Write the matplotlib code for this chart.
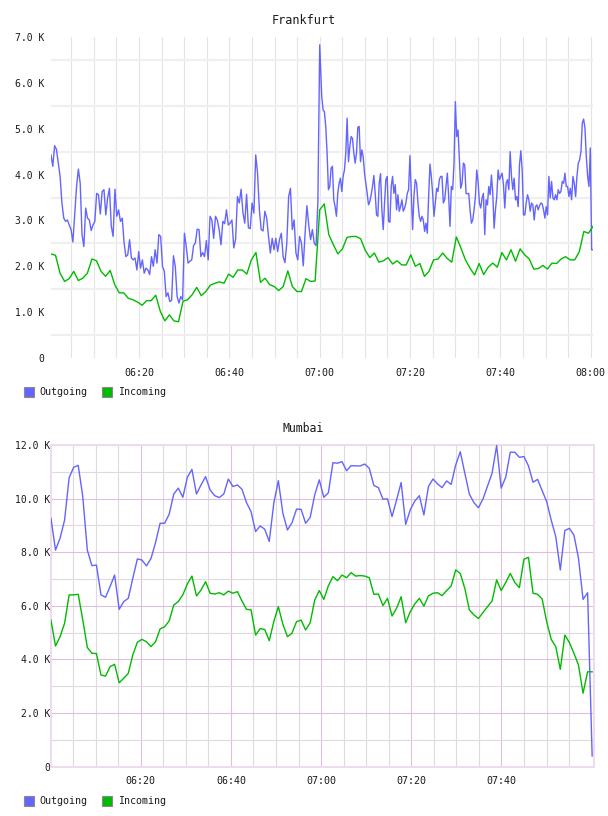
import numpy as np
import matplotlib
matplotlib.use("Agg")
import matplotlib.pyplot as plt
from matplotlib.patches import Rectangle
from matplotlib.ticker import FixedLocator, FixedFormatter, NullFormatter

# ---------------- data (values in thousands) ----------------
series_names = ["Outgoing", "Incoming"]
chart_titles = ["Frankfurt", "Mumbai"]

fra_out_first_hour = [4.43, 4.18, 4.63, 4.55, 4.25, 3.96, 3.38, 3.05, 2.98, 3.01, 2.90, 2.80, 2.53, 3.12, 3.74,
    4.12, 3.81, 2.69, 2.43, 3.27, 3.05, 3.01, 2.78, 2.90, 2.98, 3.59, 3.56, 3.14, 3.63, 3.67, 3.12, 3.49, 3.70,
    2.87, 2.65, 3.68, 3.09, 3.23, 2.98, 3.05, 2.51, 2.21, 2.25, 2.58, 2.18, 2.14, 2.18, 1.92, 2.32, 1.96, 2.14,
    1.85, 1.96, 1.92, 1.82, 2.21, 2.00, 2.36, 2.07, 2.69, 2.65, 2.00, 1.89, 1.34, 1.42, 1.23, 1.26, 2.23, 2.00,
    1.34, 1.20, 1.34, 1.27, 2.72, 2.43, 2.07, 2.11, 2.14, 2.45, 2.51, 2.81, 2.80, 2.21, 2.30, 2.21, 2.56, 2.14,
    3.09, 3.01, 2.61, 3.09, 3.01, 2.80, 2.47, 2.98, 2.93, 3.23, 2.90, 2.94, 3.01, 2.40, 2.59, 3.52, 3.38, 3.68,
    3.17, 2.94, 3.57, 2.84, 2.82, 3.38, 3.16, 4.43, 4.03, 3.23, 2.80, 2.77, 3.20, 3.05, 2.65, 2.29, 2.61, 2.36,
    2.61, 2.32, 2.58, 2.72, 2.21, 2.08, 2.51, 3.52, 3.70, 2.80, 3.01, 2.29, 2.14, 2.65, 2.51, 2.01, 2.72, 3.32,
    2.90, 2.58, 2.80, 2.51, 2.45, 3.41, 6.83]

fra_out_second_hour = [5.70, 5.41, 5.37, 5.05, 4.47, 3.67, 3.74, 4.14, 4.18, 3.45, 3.30, 3.09, 3.59, 3.81, 3.92,
    3.63, 3.96, 4.10, 4.47, 5.23, 4.28, 4.61, 4.83, 4.79, 4.47, 4.25, 4.47, 5.03, 5.05, 4.28, 4.54, 4.39, 4.03,
    3.81, 3.59, 3.34, 3.41, 3.56, 3.74, 3.98, 3.59, 3.12, 3.09, 3.81, 4.02, 3.23, 2.80, 3.38, 3.89, 3.96, 2.98,
    2.96, 3.74, 3.96, 3.59, 3.78, 3.23, 3.56, 3.20, 3.30, 3.45, 3.20, 3.27, 3.38, 3.59, 3.67, 4.41, 3.59, 2.80,
    3.52, 3.89, 3.81, 3.38, 3.09, 2.98, 3.09, 3.01, 2.76, 2.94, 2.72, 3.52, 4.23, 3.96, 3.59, 3.09, 3.38, 3.70,
    3.63, 3.89, 3.96, 3.96, 3.38, 3.45, 3.74, 4.03, 3.52, 2.87, 3.74, 3.67, 4.25, 5.59, 4.83, 4.97, 4.32, 3.70,
    3.81, 4.25, 4.21, 3.59, 3.58, 3.59, 3.23, 2.94, 3.01, 3.23, 3.52, 4.10, 3.85, 3.38, 3.27, 3.49, 3.59, 2.69,
    3.45, 3.34, 3.74, 3.56, 3.99, 3.59, 2.83, 3.23, 3.52, 4.10, 3.89, 3.96, 4.03, 3.78, 3.27, 3.81, 3.89, 3.67,
    4.50, 3.96, 3.67, 3.92, 3.45, 3.52, 3.30, 4.21, 4.52, 4.10, 3.12, 3.12, 3.38, 3.56, 3.45, 3.20, 3.38, 3.34,
    3.01, 3.30, 3.34, 3.23, 3.32, 3.38, 3.36, 3.23, 3.05, 3.30, 3.12, 3.96, 3.49, 3.85, 3.49, 3.45, 3.56, 3.45,
    3.67, 3.59, 3.63, 3.85, 3.81, 4.03, 3.74, 3.74, 3.52, 3.70, 3.45, 3.96, 3.81, 3.52, 3.96, 4.25, 4.32, 4.50,
    5.12, 5.21, 5.01, 4.39, 3.96, 3.74, 4.58, 2.36, 2.36]

fra_in = [2.27, 2.24, 1.85, 1.67, 1.73, 1.89, 1.69, 1.74, 1.85, 2.16, 2.12, 1.89, 1.78, 1.91, 1.60, 1.42, 1.42,
    1.30, 1.27, 1.22, 1.15, 1.25, 1.25, 1.37, 1.02, 0.81, 0.94, 0.81, 0.79, 1.24, 1.27, 1.38, 1.54, 1.36, 1.45,
    1.59, 1.63, 1.66, 1.63, 1.83, 1.76, 1.92, 1.92, 1.83, 2.14, 2.30, 1.65, 1.74, 1.60, 1.56, 1.47, 1.56, 1.90,
    1.56, 1.45, 1.45, 1.73, 1.67, 1.68,
    3.23, 3.36, 2.69, 2.47, 2.27, 2.38, 2.63, 2.65, 2.65, 2.60, 2.35, 2.19, 2.29, 2.09, 2.12, 2.19, 2.05, 2.12,
    2.03, 2.03, 2.25, 2.00, 2.06, 1.78, 1.89, 2.14, 2.16, 2.29, 2.17, 2.09, 2.64, 2.40, 2.14, 1.96, 1.81, 2.06,
    1.82, 1.98, 2.07, 1.98, 2.30, 2.14, 2.36, 2.11, 2.38, 2.25, 2.16, 1.94, 1.95, 2.02, 1.94, 2.07, 2.06, 2.16,
    2.21, 2.14, 2.14, 2.32, 2.76, 2.72, 2.87]

mum_out = [9.27, 8.08, 8.52, 9.20, 10.78, 11.17, 11.24, 10.07, 8.08, 7.50, 7.52, 6.41, 6.32, 6.72, 7.15, 5.87,
    6.16, 6.28, 7.03, 7.75, 7.71, 7.49, 7.77, 8.36, 9.08, 9.08, 9.42, 10.17, 10.39, 10.05, 10.80, 11.09, 10.17,
    10.51, 10.82, 10.32, 10.11, 10.04, 10.17, 10.73, 10.45, 10.51, 10.35, 9.85, 9.51, 8.77, 8.98, 8.86, 8.40,
    9.83, 10.67, 9.45, 8.83, 9.10, 9.61, 9.60, 9.08, 9.30, 10.14, 10.70, 10.05,
    10.22, 11.34, 11.32, 11.38, 11.04, 11.23, 11.22, 11.22, 11.29, 11.13, 10.49, 10.41, 9.98, 9.99, 9.33, 9.95,
    10.60, 9.04, 9.58, 9.91, 10.11, 9.39, 10.45, 10.73, 10.55, 10.41, 10.66, 10.53, 11.26, 11.75, 10.95, 10.17,
    9.85, 9.66, 9.99, 10.47, 10.95, 11.98, 10.39, 10.80, 11.73, 11.73, 11.54, 11.57, 11.22, 10.61, 10.72, 10.30,
    9.89, 9.20, 8.58, 7.34, 8.81, 8.89, 8.64, 7.77, 6.24, 6.49, 0.40]

mum_in = [5.47, 4.50, 4.85, 5.35, 6.41, 6.41, 6.43, 5.47, 4.45, 4.23, 4.22, 3.42, 3.38, 3.73, 3.82, 3.13, 3.30,
    3.48, 4.17, 4.64, 4.75, 4.66, 4.48, 4.66, 5.14, 5.22, 5.44, 6.03, 6.16, 6.41, 6.82, 7.11, 6.37, 6.59, 6.90,
    6.47, 6.44, 6.49, 6.41, 6.55, 6.47, 6.53, 6.18, 5.87, 5.85, 4.91, 5.15, 5.12, 4.70, 5.41, 5.97, 5.31, 4.85,
    4.98, 5.41, 5.47, 5.10, 5.37, 6.22, 6.57, 6.24,
    6.75, 7.09, 6.94, 7.15, 7.05, 7.24, 7.11, 7.13, 7.11, 7.05, 6.43, 6.44, 6.01, 6.28, 5.62, 5.91, 6.34, 5.37,
    5.78, 6.07, 6.28, 5.99, 6.37, 6.47, 6.49, 6.38, 6.57, 6.74, 7.34, 7.21, 6.65, 5.85, 5.66, 5.53, 5.75, 5.97,
    6.18, 6.97, 6.57, 6.87, 7.21, 6.87, 6.68, 7.74, 7.81, 6.47, 6.43, 6.26, 5.41, 4.75, 4.48, 3.63, 4.91, 4.63,
    4.23, 3.79, 2.74, 3.54, 3.54]

time_tick_minutes = [20, 40, 60, 80, 100, 120]          # minutes after 06:00
time_tick_labels = ["06:20", "06:40", "07:00", "07:20", "07:40", "08:00"]
fra_y_ticks = [0, 1, 2, 3, 4, 5, 6, 7]
mum_y_ticks = [0, 2, 4, 6, 8, 10, 12]

# sample times (minutes after 06:00)
t_fra_out = np.concatenate([np.linspace(0.5, 60.0, len(fra_out_first_hour)),
                            np.linspace(60.45, 120.5, len(fra_out_second_hour))])
fra_out = fra_out_first_hour + fra_out_second_hour
t_fra_in = np.linspace(0.5, 120.5, len(fra_in))
t_mum = np.linspace(0.1, 120.1, len(mum_out))

# ---------------- style ----------------
BLUE = "#6464ff"
GREEN = "#00bb00"
FONT = "DejaVu Sans Mono"
TXT = "#1a1a1a"
plt.rcParams["font.family"] = [FONT, "DejaVu Sans"]

W, H = 608, 816
fig = plt.figure(figsize=(W / 100, H / 100), dpi=100)
fig.patch.set_facecolor("white")


def ax_at(l, t, r, b):
    return fig.add_axes([l / W, 1 - b / H, (r - l) / W, (b - t) / H])


def klabel(v):
    return "0" if v == 0 else f"{v:.1f} K"


# ---------------- Frankfurt ----------------
ax1 = ax_at(51, 37, 593.3, 358)
ax1.set_xlim(0.51, 120.57)
ax1.set_ylim(0, 7)
ax1.plot(t_fra_out, fra_out, color=BLUE, lw=1.0, zorder=3)
ax1.plot(t_fra_in, fra_in, color=GREEN, lw=1.0, zorder=4)
ax1.yaxis.set_major_locator(FixedLocator(fra_y_ticks))
ax1.yaxis.set_major_formatter(FixedFormatter([klabel(v) for v in fra_y_ticks]))
ax1.yaxis.set_minor_locator(FixedLocator([v + 0.5 for v in fra_y_ticks[:-1]]))
ax1.xaxis.set_major_locator(FixedLocator(time_tick_minutes))
ax1.xaxis.set_major_formatter(FixedFormatter(time_tick_labels))
ax1.xaxis.set_minor_locator(FixedLocator([m for m in range(5, 121, 5) if m not in time_tick_minutes]))
ax1.grid(which="minor", axis="y", color="#efefef", lw=1.6, zorder=0)
ax1.grid(which="both", axis="x", color="#e4e4e4", lw=0.8, zorder=0)
for s in ax1.spines.values():
    s.set_visible(False)
ax1.tick_params(which="both", length=0)
ax1.tick_params(axis="y", pad=5, labelsize=7, labelcolor=TXT)
ax1.tick_params(axis="x", pad=7, labelsize=7.2, labelcolor=TXT)
ax1.set_axisbelow(True)

# ---------------- Mumbai ----------------
ax2 = ax_at(50.5, 445, 593.5, 766.7)
ax2.set_xlim(0, 120.4)
ax2.set_ylim(0, 12)
ax2.plot(t_mum, mum_out, color=BLUE, lw=1.0, zorder=3)
ax2.plot(t_mum, mum_in, color=GREEN, lw=1.0, zorder=4)
ax2.yaxis.set_major_locator(FixedLocator(mum_y_ticks))
ax2.yaxis.set_major_formatter(FixedFormatter([klabel(v) for v in mum_y_ticks]))
ax2.yaxis.set_minor_locator(FixedLocator([v + 1 for v in mum_y_ticks[:-1]]))
ax2.xaxis.set_major_locator(FixedLocator(time_tick_minutes[:-1]))
ax2.xaxis.set_major_formatter(FixedFormatter(time_tick_labels[:-1]))
ax2.xaxis.set_minor_locator(FixedLocator([m for m in range(5, 120, 5) if m not in time_tick_minutes]))
ax2.grid(which="major", color="#dcc0dc", lw=0.8, zorder=0)
ax2.grid(which="minor", color="#e0dae0", lw=0.8, zorder=0)
for s in ax2.spines.values():
    s.set_color("#eedcee")
    s.set_linewidth(1.4)
ax2.tick_params(which="both", length=0)
ax2.tick_params(axis="y", pad=0, labelsize=7, labelcolor=TXT)
ax2.tick_params(axis="x", pad=7, labelsize=7.2, labelcolor=TXT)
ax2.set_axisbelow(True)

# ---------------- titles & legends ----------------
fig.text(304 / W, 1 - 20 / H, chart_titles[0], ha="center", va="center", size=8.5, color=TXT)
fig.text(303 / W, 1 - 428 / H, chart_titles[1], ha="center", va="center", size=8.3, color=TXT)


def legend(yc):
    for x0, xt, col, lab in [(24.3, 39, BLUE, series_names[0]), (102.3, 118, GREEN, series_names[1])]:
        fig.add_artist(Rectangle((x0 / W, 1 - (yc + 5) / H), 10 / W, 10 / H, transform=fig.transFigure,
                                 facecolor=col, edgecolor="#8a8a8a", lw=0.8))
        fig.text(xt / W, 1 - yc / H, lab, ha="left", va="center", size=7.2, color=TXT)


legend(392)
legend(800.7)

fig.savefig("out.png", dpi=100, facecolor="white")
